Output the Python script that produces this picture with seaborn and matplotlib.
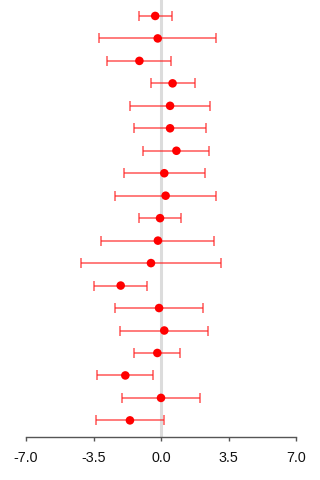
import matplotlib
matplotlib.use("Agg")
import matplotlib.pyplot as plt
import seaborn as sns
import pandas as pd
import numpy as np

# Effect estimates with lower / upper interval bounds, top row first
estimate = [-0.30, -0.17, -1.12, 0.60, 0.47, 0.47, 0.80, 0.17, 0.24, -0.05,
            -0.16, -0.52, -2.09, -0.10, 0.17, -0.19, -1.85, 0.00, -1.61]
lower = [-1.12, -3.20, -2.78, -0.54, -1.62, -1.38, -0.92, -1.92, -2.37, -1.12,
         -3.09, -4.13, -3.47, -2.37, -2.13, -1.38, -3.30, -2.01, -3.39]
upper = [0.55, 2.87, 0.50, 1.78, 2.56, 2.33, 2.49, 2.30, 2.87, 1.02,
         2.76, 3.09, -0.71, 2.18, 2.45, 1.00, -0.40, 2.01, 0.17]
xticks = [-7.0, -3.5, 0.0, 3.5, 7.0]

df = pd.DataFrame({"row": np.arange(len(estimate)), "est": estimate,
                   "lo": lower, "hi": upper})

sns.set_theme(style="white")
plt.rcParams["font.family"] = ["Liberation Sans", "DejaVu Sans"]

fig = plt.figure(figsize=(3.2, 4.8), dpi=100)
ax = fig.add_axes([26 / 320, 1 - 437 / 480, 270 / 320, 437 / 480])

ax.axvline(0, color="#dcdcdc", lw=2.2, zorder=0)
ax.errorbar(df["est"], df["row"],
            xerr=[df["est"] - df["lo"], df["hi"] - df["est"]],
            fmt="none", ecolor="#ff2020", alpha=0.75, elinewidth=1.1,
            capsize=3.6, capthick=1.1, zorder=2)
sns.scatterplot(data=df, x="est", y="row", color="#ff0000", s=38,
                edgecolor="none", ax=ax, zorder=3, legend=False)

ax.set_xlim(-7, 7)
ax.set_ylim(18.74, -0.71)
ax.set_xticks(xticks)
ax.set_xticklabels([f"{t:.1f}" for t in xticks], fontsize=10.3, color="#111111")
ax.set_yticks([])
ax.set_xlabel("")
ax.set_ylabel("")
for side in ["top", "left", "right"]:
    ax.spines[side].set_visible(False)
ax.spines["bottom"].set_color("#555555")
ax.spines["bottom"].set_linewidth(1.0)
ax.tick_params(axis="x", bottom=True, direction="out", length=3,
               width=1, color="#555555", pad=7)

fig.savefig("out.png", dpi=100)
